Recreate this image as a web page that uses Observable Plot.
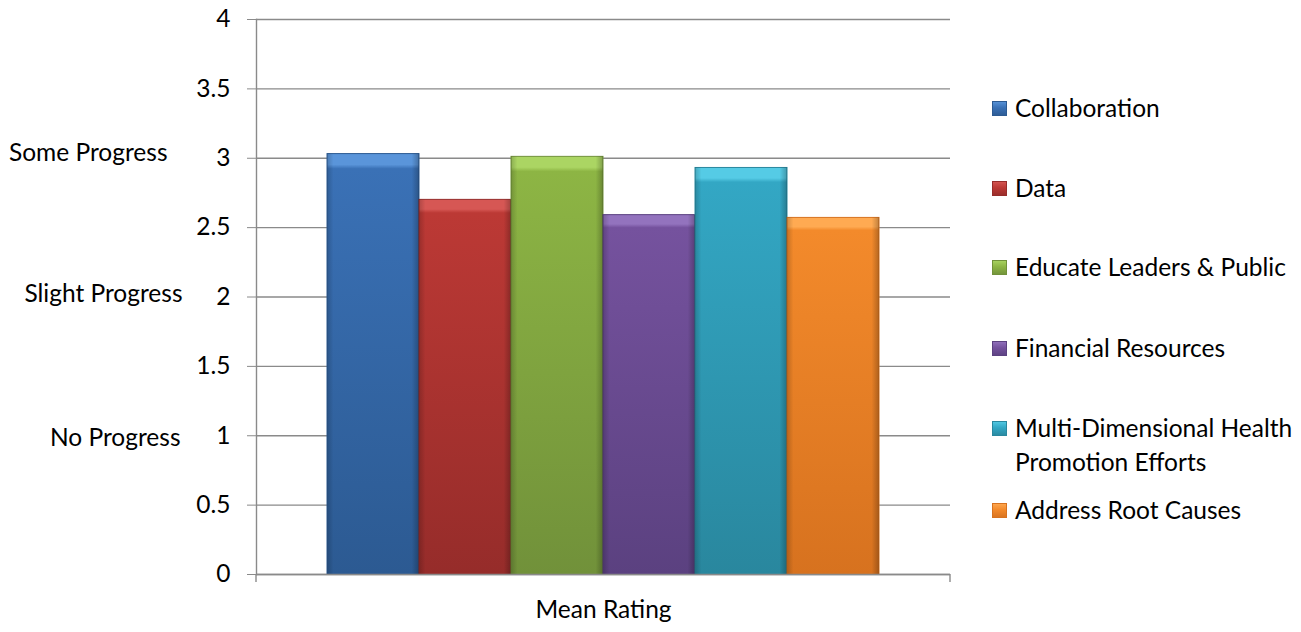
<!DOCTYPE html>
<html><head><meta charset="utf-8">
<script src="https://cdn.jsdelivr.net/npm/d3@7"></script>
<script src="https://cdn.jsdelivr.net/npm/@observablehq/plot@0.6"></script>
<style>
body{margin:0;background:#fff;font-family:Lato,"Noto Sans",sans-serif;}
#wrap{position:relative;width:1301px;height:632px;overflow:hidden;}
#legend{position:absolute;left:992px;top:0;width:309px;font-size:24.5px;color:#000;}
.item{position:absolute;left:0;display:flex;align-items:flex-start;line-height:34px;white-space:nowrap;}
.sw{width:15px;height:15px;margin-top:10px;margin-right:8px;flex:none;}
</style></head>
<body><div id="wrap"><div id="legend"></div></div>
<script>
const categories = ["Collaboration","Data","Educate Leaders & Public","Financial Resources","Multi-Dimensional Health Promotion Efforts","Address Root Causes"];
const legendLines = [["Collaboration"],["Data"],["Educate Leaders & Public"],["Financial Resources"],["Multi-Dimensional Health","Promotion Efforts"],["Address Root Causes"]];
const values = [3.03, 2.70, 3.01, 2.59, 2.93, 2.57];
const topColors = ["#5A95DA","#D65754","#ABD563","#9373BE","#55CBE5","#FFAA52"];
const midColors = ["#3A71B6","#BC3935","#8DB544","#75529E","#33A7C4","#F38A2B"];
const botColors = ["#2C5A92","#962C2A","#71913A","#5B4180","#29879E","#D7721F"];
const yTicks = [0,0.5,1,1.5,2,2.5,3,3.5,4];
const progressLabels = ["No Progress","Slight Progress","Some Progress"];
const progressValues = [1,2,3];
const xTitle = "Mean Rating";

const rows = categories.map((c,i)=>({cat:c, value:values[i], idx:i}));
const labelOffsets = [{dx:-76,dy:2},{dx:-74,dy:-3},{dx:-89,dy:-5}];
const FS = 24.5;

const marks = [
  Plot.gridY(yTicks, {stroke:"#8a8a8a", strokeOpacity:1, strokeWidth:1.4}),
  Plot.barY(rows, {x:"cat", y:"value", fill:d=>`url(#g${d.idx})`, stroke:d=>botColors[d.idx], strokeWidth:1}),
  Plot.barY(rows, {x:"cat", y:"value", fill:"url(#hshade)"}),
  Plot.axisY({ticks:yTicks, tickSize:9, tickPadding:17, stroke:"#8a8a8a", fill:"#000", fontSize:FS, label:null, tickFormat:d=>String(d)}),
  Plot.frame({anchor:"left", stroke:"#8a8a8a", strokeWidth:1.4}),
  Plot.ruleY([0], {stroke:"#8a8a8a", strokeWidth:1.4}),
  ...progressLabels.map((t,i)=>Plot.text([t], {y:[progressValues[i]], frameAnchor:"left", textAnchor:"end", dx:labelOffsets[i].dx, dy:labelOffsets[i].dy, fontSize:FS, fill:"#000"})),
  Plot.text([xTitle], {frameAnchor:"bottom", dy:43, fontSize:FS, fill:"#000"})
];

const chart = Plot.plot({
  width:1301, height:632,
  marginLeft:256, marginRight:351, marginTop:19, marginBottom:58,
  style:{fontFamily:"Lato, 'Noto Sans', sans-serif", fontSize:FS+"px", background:"#fff", overflow:"visible"},
  x:{type:"band", domain:categories, padding:0, insetLeft:68, insetRight:69, axis:null},
  y:{domain:[0,4], axis:null},
  marks
});

const svg = d3.select(chart);
const defs = svg.insert("defs", ":first-child");
categories.forEach((c,i)=>{
  const g = defs.append("linearGradient").attr("id","g"+i).attr("x1",0).attr("y1",0).attr("x2",0).attr("y2",1);
  g.append("stop").attr("offset","0%").attr("stop-color",topColors[i]);
  g.append("stop").attr("offset","2.6%").attr("stop-color",topColors[i]);
  g.append("stop").attr("offset","3.6%").attr("stop-color",midColors[i]);
  g.append("stop").attr("offset","100%").attr("stop-color",botColors[i]);
});
const h = defs.append("linearGradient").attr("id","hshade").attr("x1",0).attr("y1",0).attr("x2",1).attr("y2",0);
h.append("stop").attr("offset","0%").attr("stop-color","#000").attr("stop-opacity",0.18);
h.append("stop").attr("offset","7%").attr("stop-color","#000").attr("stop-opacity",0);
h.append("stop").attr("offset","92%").attr("stop-color","#000").attr("stop-opacity",0);
h.append("stop").attr("offset","100%").attr("stop-color","#000").attr("stop-opacity",0.25);

// small end ticks on the category axis
const yS = chart.scale("y");
const y0 = yS.apply(0);
[256, 1301-351].forEach(xp=>{
  svg.append("line").attr("x1",xp).attr("x2",xp).attr("y1",y0).attr("y2",y0+8).attr("stroke","#8a8a8a").attr("stroke-width",1.4);
});

const wrap = document.getElementById("wrap");
wrap.insertBefore(chart, wrap.firstChild);

const legendTops = [91,171,250,331,411,493];
const legend = document.getElementById("legend");
legendLines.forEach((lines,i)=>{
  const it = document.createElement("div");
  it.className="item";
  it.style.top = legendTops[i]+"px";
  const sw = document.createElement("div");
  sw.className="sw";
  sw.style.background = `linear-gradient(${topColors[i]}, ${midColors[i]} 45%, ${botColors[i]})`;
  sw.style.boxShadow = `inset 0 0 0 1px ${botColors[i]}`;
  const tx = document.createElement("div");
  tx.innerHTML = lines.join("<br>");
  it.appendChild(sw); it.appendChild(tx);
  legend.appendChild(it);
});
</script>
</body></html>
